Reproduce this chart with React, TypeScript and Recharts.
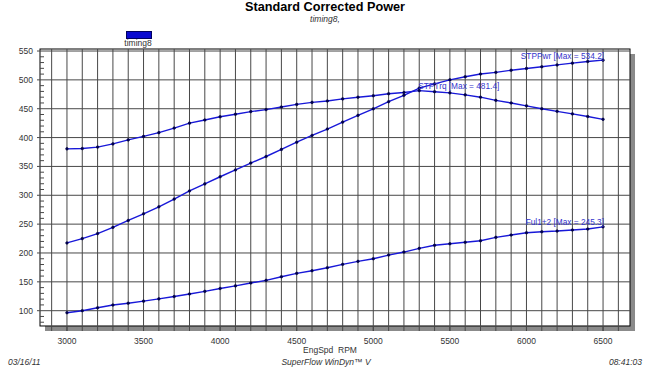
import React from 'react';
import { LineChart, Line, XAxis, YAxis, ReferenceLine, ReferenceArea, ReferenceDot } from 'recharts';

const rpm = [3000, 3100, 3200, 3300, 3400, 3500, 3600, 3700, 3800, 3900, 4000, 4100, 4200, 4300, 4400, 4500, 4600, 4700, 4800, 4900, 5000, 5100, 5200, 5300, 5400, 5500, 5600, 5700, 5800, 5900, 6000, 6100, 6200, 6300, 6400, 6500];
const stpTrq = [380.5, 381, 383.5, 389, 396, 402, 408.5, 416.5, 425, 430.5, 436, 440.5, 445, 448.5, 453, 457.5, 461, 463.5, 467, 470, 472.5, 476, 478, 481.4, 479.5, 477.5, 474, 470, 464.5, 460, 455, 450, 445.5, 441, 436.5, 431.6];
const stpPwr = [217.4, 224.9, 233.6, 244.4, 256.4, 267.9, 280.0, 293.4, 307.5, 319.7, 332.1, 343.9, 355.9, 367.2, 379.5, 392.0, 403.7, 414.8, 426.8, 438.5, 449.8, 462.2, 473.3, 485.8, 493.0, 500.0, 505.4, 510.1, 513.0, 516.7, 519.8, 522.7, 525.9, 529.0, 531.9, 534.2];
const ful12 = [96.5, 100, 105, 109.8, 113, 116.5, 120.5, 124.5, 129, 133.5, 138.5, 143, 148, 152.6, 158.8, 164.7, 169.3, 174.5, 180.3, 185.5, 190, 196.4, 201.6, 208, 213.3, 216, 218.5, 221.2, 227.1, 231.1, 235.1, 236.8, 238, 239.8, 241.5, 245.3];

const xTickLabels = [3000, 3500, 4000, 4500, 5000, 5500, 6000, 6500];
const yTickLabels = [100, 150, 200, 250, 300, 350, 400, 450, 500, 550];
const xGridValues = [2900, 3000, 3100, 3200, 3300, 3400, 3500, 3600, 3700, 3800, 3900, 4000, 4100, 4200, 4300, 4400, 4500, 4600, 4700, 4800, 4900, 5000, 5100, 5200, 5300, 5400, 5500, 5600, 5700, 5800, 5900, 6000, 6100, 6200, 6300, 6400, 6500, 6600];
const yMinorTicks = [80, 90, 100, 110, 120, 130, 140, 150, 160, 170, 180, 190, 200, 210, 220, 230, 240, 250, 260, 270, 280, 290, 300, 310, 320, 330, 340, 350, 360, 370, 380, 390, 400, 410, 420, 430, 440, 450, 460, 470, 480, 490, 500, 510, 520, 530, 540, 550];

// frame of the plot (data units) and a slightly larger domain that leaves room for the drop shadow
const FRAME_X: [number, number] = [2824, 6676];
const FRAME_Y: [number, number] = [73.5, 553.5];
const X_DOMAIN: [number, number] = [2824, 6708.6];
const Y_DOMAIN: [number, number] = [64.8, 553.5];

const data = rpm.map((r, i) => ({ rpm: r, trq: stpTrq[i], pwr: stpPwr[i], ful: ful12[i] }));

const FONT = '"Liberation Sans", Arial, sans-serif';
const LINE = '#1818d8';
const DOT = '#00004a';
const GRID = '#484848';
const TXT = '#333';
const SH = 5;

const XTick = (props: any) => {
  const { x, y, payload } = props;
  return (
    <g>
      <line x1={x} x2={x} y1={y - SH} y2={y} stroke={GRID} />
      <text x={x} y={y + 12.5} textAnchor="middle" fontSize={8.5} fill={TXT} fontFamily={FONT}>{payload.value}</text>
    </g>
  );
};

const YTick = (props: any) => {
  const { x, y, payload } = props;
  const v = payload.value;
  if (yTickLabels.includes(v)) {
    return (
      <g>
        <line x1={x - 3} x2={x} y1={y} y2={y} stroke={GRID} />
        <text x={x - 7} y={y + 3} textAnchor="end" fontSize={8.5} fill={TXT} fontFamily={FONT}>{v}</text>
      </g>
    );
  }
  return <line x1={x} x2={x + 4} y1={y} y2={y} stroke={GRID} />;
};

const ShadowShape = (p: any) => (
  <g>
    <rect x={p.x + SH} y={p.y + SH} width={p.width} height={p.height} fill="#8a8a8a" />
    <rect x={p.x} y={p.y} width={p.width} height={p.height} fill="#ffffff" />
  </g>
);

const BorderShape = (p: any) => (
  <rect x={p.x} y={p.y} width={p.width} height={p.height} fill="none" stroke="#000" strokeWidth={1} />
);

const makeLabel = (text: string, anchor: 'start' | 'end') => (props: any) => {
  const vb = props.viewBox || {};
  const cx = (vb.x ?? 0) + (vb.width ?? 0) / 2;
  const cy = (vb.y ?? 0) + (vb.height ?? 0) / 2;
  return (
    <text x={anchor === 'end' ? cx + 1 : cx - 1} y={cy - 1.5} textAnchor={anchor} fontSize={8.3} fill="#3434cc" fontFamily={FONT}>{text}</text>
  );
};

const Txt = ({ x, y, size, children, align = 'center', bold = false, italic = false, color = TXT }: any) => {
  const tx = align === 'center' ? 'translateX(-50%)' : align === 'right' ? 'translateX(-100%)' : 'none';
  return (
    <div style={{ position: 'absolute', left: x, top: y - size * 0.6, lineHeight: `${size * 1.2}px`, fontSize: size, fontFamily: FONT, fontWeight: bold ? 'bold' : 'normal', fontStyle: italic ? 'italic' : 'normal', color, whiteSpace: 'nowrap', transform: tx }}>
      {children}
    </div>
  );
};

export default function App() {
  return (
    <div style={{ position: 'absolute', left: 0, top: 0, width: 650, height: 368, background: '#fff', overflow: 'hidden' }}>
      <LineChart width={650} height={368} data={data} margin={{ top: 49, right: 15, bottom: 36, left: 39 }}>
        <XAxis dataKey="rpm" type="number" domain={X_DOMAIN} ticks={xTickLabels} allowDataOverflow axisLine={false} tickLine={false} tickSize={0} tickMargin={0} height={1} interval={0} tick={<XTick />} />
        <YAxis type="number" domain={Y_DOMAIN} ticks={yMinorTicks} allowDataOverflow axisLine={false} tickLine={false} tickSize={0} tickMargin={0} width={1} interval={0} tick={<YTick />} />
        <ReferenceArea x1={FRAME_X[0]} x2={FRAME_X[1]} y1={FRAME_Y[0]} y2={FRAME_Y[1]} shape={ShadowShape} ifOverflow="visible" />
        {xGridValues.map((v) => (
          <ReferenceLine key={'x' + v} x={v} y={undefined} segment={[{ x: v, y: FRAME_Y[0] }, { x: v, y: FRAME_Y[1] }]} stroke={GRID} strokeWidth={1} />
        ))}
        {yTickLabels.map((v) => (
          <ReferenceLine key={'y' + v} segment={[{ x: FRAME_X[0], y: v }, { x: FRAME_X[1], y: v }]} stroke={GRID} strokeWidth={1} />
        ))}
        <ReferenceArea x1={FRAME_X[0]} x2={FRAME_X[1]} y1={FRAME_Y[0]} y2={FRAME_Y[1]} shape={BorderShape} ifOverflow="visible" />
        <Line type="linear" dataKey="trq" stroke={LINE} strokeWidth={1.4} dot={{ r: 1.3, fill: DOT, stroke: DOT, strokeWidth: 0.6 }} isAnimationActive={false} />
        <Line type="linear" dataKey="pwr" stroke={LINE} strokeWidth={1.4} dot={{ r: 1.3, fill: DOT, stroke: DOT, strokeWidth: 0.6 }} isAnimationActive={false} />
        <Line type="linear" dataKey="ful" stroke={LINE} strokeWidth={1.4} dot={{ r: 1.3, fill: DOT, stroke: DOT, strokeWidth: 0.6 }} isAnimationActive={false} />
        <ReferenceDot x={6500} y={534.2} r={0} stroke="none" label={makeLabel('STPPwr [Max = 534.2]', 'end')} />
        <ReferenceDot x={5300} y={481.4} r={0} stroke="none" label={makeLabel('STPTrq [Max = 481.4]', 'start')} />
        <ReferenceDot x={6500} y={245.3} r={0} stroke="none" label={makeLabel('Ful1+2 [Max = 245.3]', 'end')} />
      </LineChart>
      <Txt x={325} y={8} size={12.7} bold color="#000">Standard Corrected Power</Txt>
      <Txt x={325} y={19} size={8.5} italic>timing8,</Txt>
      <div style={{ position: 'absolute', left: 126, top: 31, width: 24, height: 6, background: '#0a0ad0', border: '0.5px solid #000060' }} />
      <Txt x={138} y={43.5} size={8.5}>timing8</Txt>
      <Txt x={330} y={350} size={8.5}>EngSpd&nbsp;&nbsp;RPM</Txt>
      <Txt x={326} y={362} size={8.5} italic>SuperFlow WinDyn™ V</Txt>
      <Txt x={8} y={362} size={8.5} italic align="left">03/16/11</Txt>
      <Txt x={642} y={362} size={8.5} italic align="right">08:41:03</Txt>
    </div>
  );
}
